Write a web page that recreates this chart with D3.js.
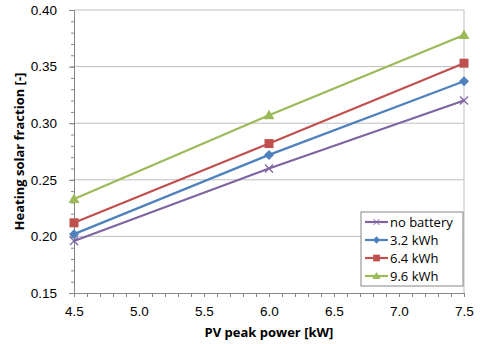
<!DOCTYPE html>
<html>
<head>
<meta charset="utf-8">
<script src="https://cdn.jsdelivr.net/npm/d3@7"></script>
<style>
  body { margin: 0; background: #fff; }
  svg { font-family: "Open Sans", "Noto Sans", sans-serif; }
</style>
</head>
<body>
<svg id="chart" width="480" height="344"></svg>
<script>
const pvPower = [4.5, 6.0, 7.5];
const noBattery = [0.196, 0.260, 0.320];
const bat32 = [0.202, 0.272, 0.337];
const bat64 = [0.212, 0.282, 0.353];
const bat96 = [0.233, 0.307, 0.378];
const yTicks = [0.15, 0.20, 0.25, 0.30, 0.35, 0.40];
const xTicks = [4.5, 5.0, 5.5, 6.0, 6.5, 7.0, 7.5];

const series = [
    { name: "no battery", values: noBattery, color: "#8064A2", marker: "x" },
    { name: "3.2 kWh", values: bat32, color: "#4F81BD", marker: "diamond" },
    { name: "6.4 kWh", values: bat64, color: "#C0504D", marker: "square" },
    { name: "9.6 kWh", values: bat96, color: "#9BBB59", marker: "triangle" }
];

const svg = d3.select("#chart");
const plotLeft = 74, plotRight = 464, plotTop = 10, plotBottom = 293;

const x = d3.scaleLinear().domain([4.5, 7.5]).range([plotLeft, plotRight]);
const y = d3.scaleLinear().domain([0.15, 0.40]).range([plotBottom, plotTop]);

// horizontal gridlines
svg.append("g").selectAll("line")
    .data(yTicks.slice(1))
    .join("line")
    .attr("x1", plotLeft).attr("x2", plotRight)
    .attr("y1", d => y(d)).attr("y2", d => y(d))
    .attr("stroke", "#BFBFBF").attr("stroke-width", 1);

// right border line
svg.append("line")
    .attr("x1", plotRight).attr("x2", plotRight)
    .attr("y1", plotTop).attr("y2", plotBottom)
    .attr("stroke", "#BFBFBF");

// y axis with minor ticks
const yAxis = svg.append("g").attr("transform", `translate(${plotLeft},0)`);
yAxis.call(d3.axisLeft(y).tickValues(d3.range(0.15, 0.4001, 0.01)).tickSize(3).tickFormat(""));
yAxis.call(g => g.select(".domain").remove());
yAxis.selectAll("line").attr("stroke", "#868686");
const yMajor = svg.append("g").attr("transform", `translate(${plotLeft},0)`)
    .call(d3.axisLeft(y).tickValues(yTicks).tickSize(5).tickPadding(12).tickFormat(d3.format(".2f")));
yMajor.select(".domain").attr("stroke", "#868686");
yMajor.selectAll("line").attr("stroke", "#868686");
yMajor.selectAll("text").attr("font-size", "13.5px").attr("fill", "#000");

// x axis with minor ticks
const xAxis = svg.append("g").attr("transform", `translate(0,${plotBottom})`)
    .call(d3.axisBottom(x).tickValues(d3.range(4.5, 7.5001, 0.1)).tickSize(4).tickFormat(""));
xAxis.select(".domain").attr("stroke", "#868686");
xAxis.selectAll("line").attr("stroke", "#868686");
const xMajor = svg.append("g").attr("transform", `translate(0,${plotBottom})`)
    .call(d3.axisBottom(x).tickValues(xTicks).tickSize(4).tickPadding(9).tickFormat(d3.format(".1f")));
xMajor.select(".domain").remove();
xMajor.selectAll("line").attr("stroke", "#868686");
xMajor.selectAll("text").attr("font-size", "13.5px").attr("fill", "#000");

// axis titles
svg.append("text")
    .attr("x", (plotLeft + plotRight) / 2).attr("y", 337)
    .attr("text-anchor", "middle")
    .attr("font-size", "13px").attr("font-weight", "bold")
    .text("PV peak power [kW]");
svg.append("text")
    .attr("transform", `translate(24,${(plotTop + plotBottom) / 2}) rotate(-90)`)
    .attr("text-anchor", "middle")
    .attr("font-size", "13px").attr("font-weight", "bold")
    .text("Heating solar fraction [-]");

function drawMarker(g, type, color) {
    if (type === "x") {
        g.append("path").attr("d", "M-4,-4L4,4M-4,4L4,-4")
            .attr("stroke", color).attr("stroke-width", 1.3).attr("fill", "none");
    } else if (type === "diamond") {
        g.append("path").attr("d", "M0,-5L5,0L0,5L-5,0Z").attr("fill", color);
    } else if (type === "square") {
        g.append("rect").attr("x", -4.5).attr("y", -4.5).attr("width", 9).attr("height", 9).attr("fill", color);
    } else {
        g.append("path").attr("d", "M0,-5.5L5.5,4L-5.5,4Z").attr("fill", color);
    }
}

const line = d3.line().x((d, i) => x(pvPower[i])).y(d => y(d));

series.forEach(s => {
    svg.append("path")
        .attr("d", line(s.values))
        .attr("fill", "none")
        .attr("stroke", s.color)
        .attr("stroke-width", 2.2);
    s.values.forEach((v, i) => {
        const g = svg.append("g").attr("transform", `translate(${x(pvPower[i])},${y(v)})`);
        drawMarker(g, s.marker, s.color);
    });
});

// legend
const legend = svg.append("g").attr("transform", "translate(361,212)");
legend.append("rect")
    .attr("width", 102).attr("height", 74)
    .attr("fill", "#fff").attr("stroke", "#868686");
series.forEach((s, i) => {
    const row = legend.append("g").attr("transform", `translate(0,${10 + i * 18})`);
    row.append("line").attr("x1", 4).attr("x2", 27).attr("y1", 0).attr("y2", 0)
        .attr("stroke", s.color).attr("stroke-width", 2.2);
    const m = row.append("g").attr("transform", "translate(15.5,0) scale(0.75)");
    drawMarker(m, s.marker, s.color);
    row.append("text").attr("x", 29).attr("y", 4.5)
        .attr("font-size", "13px").attr("fill", "#000")
        .text(s.name);
});
</script>
</body>
</html>
